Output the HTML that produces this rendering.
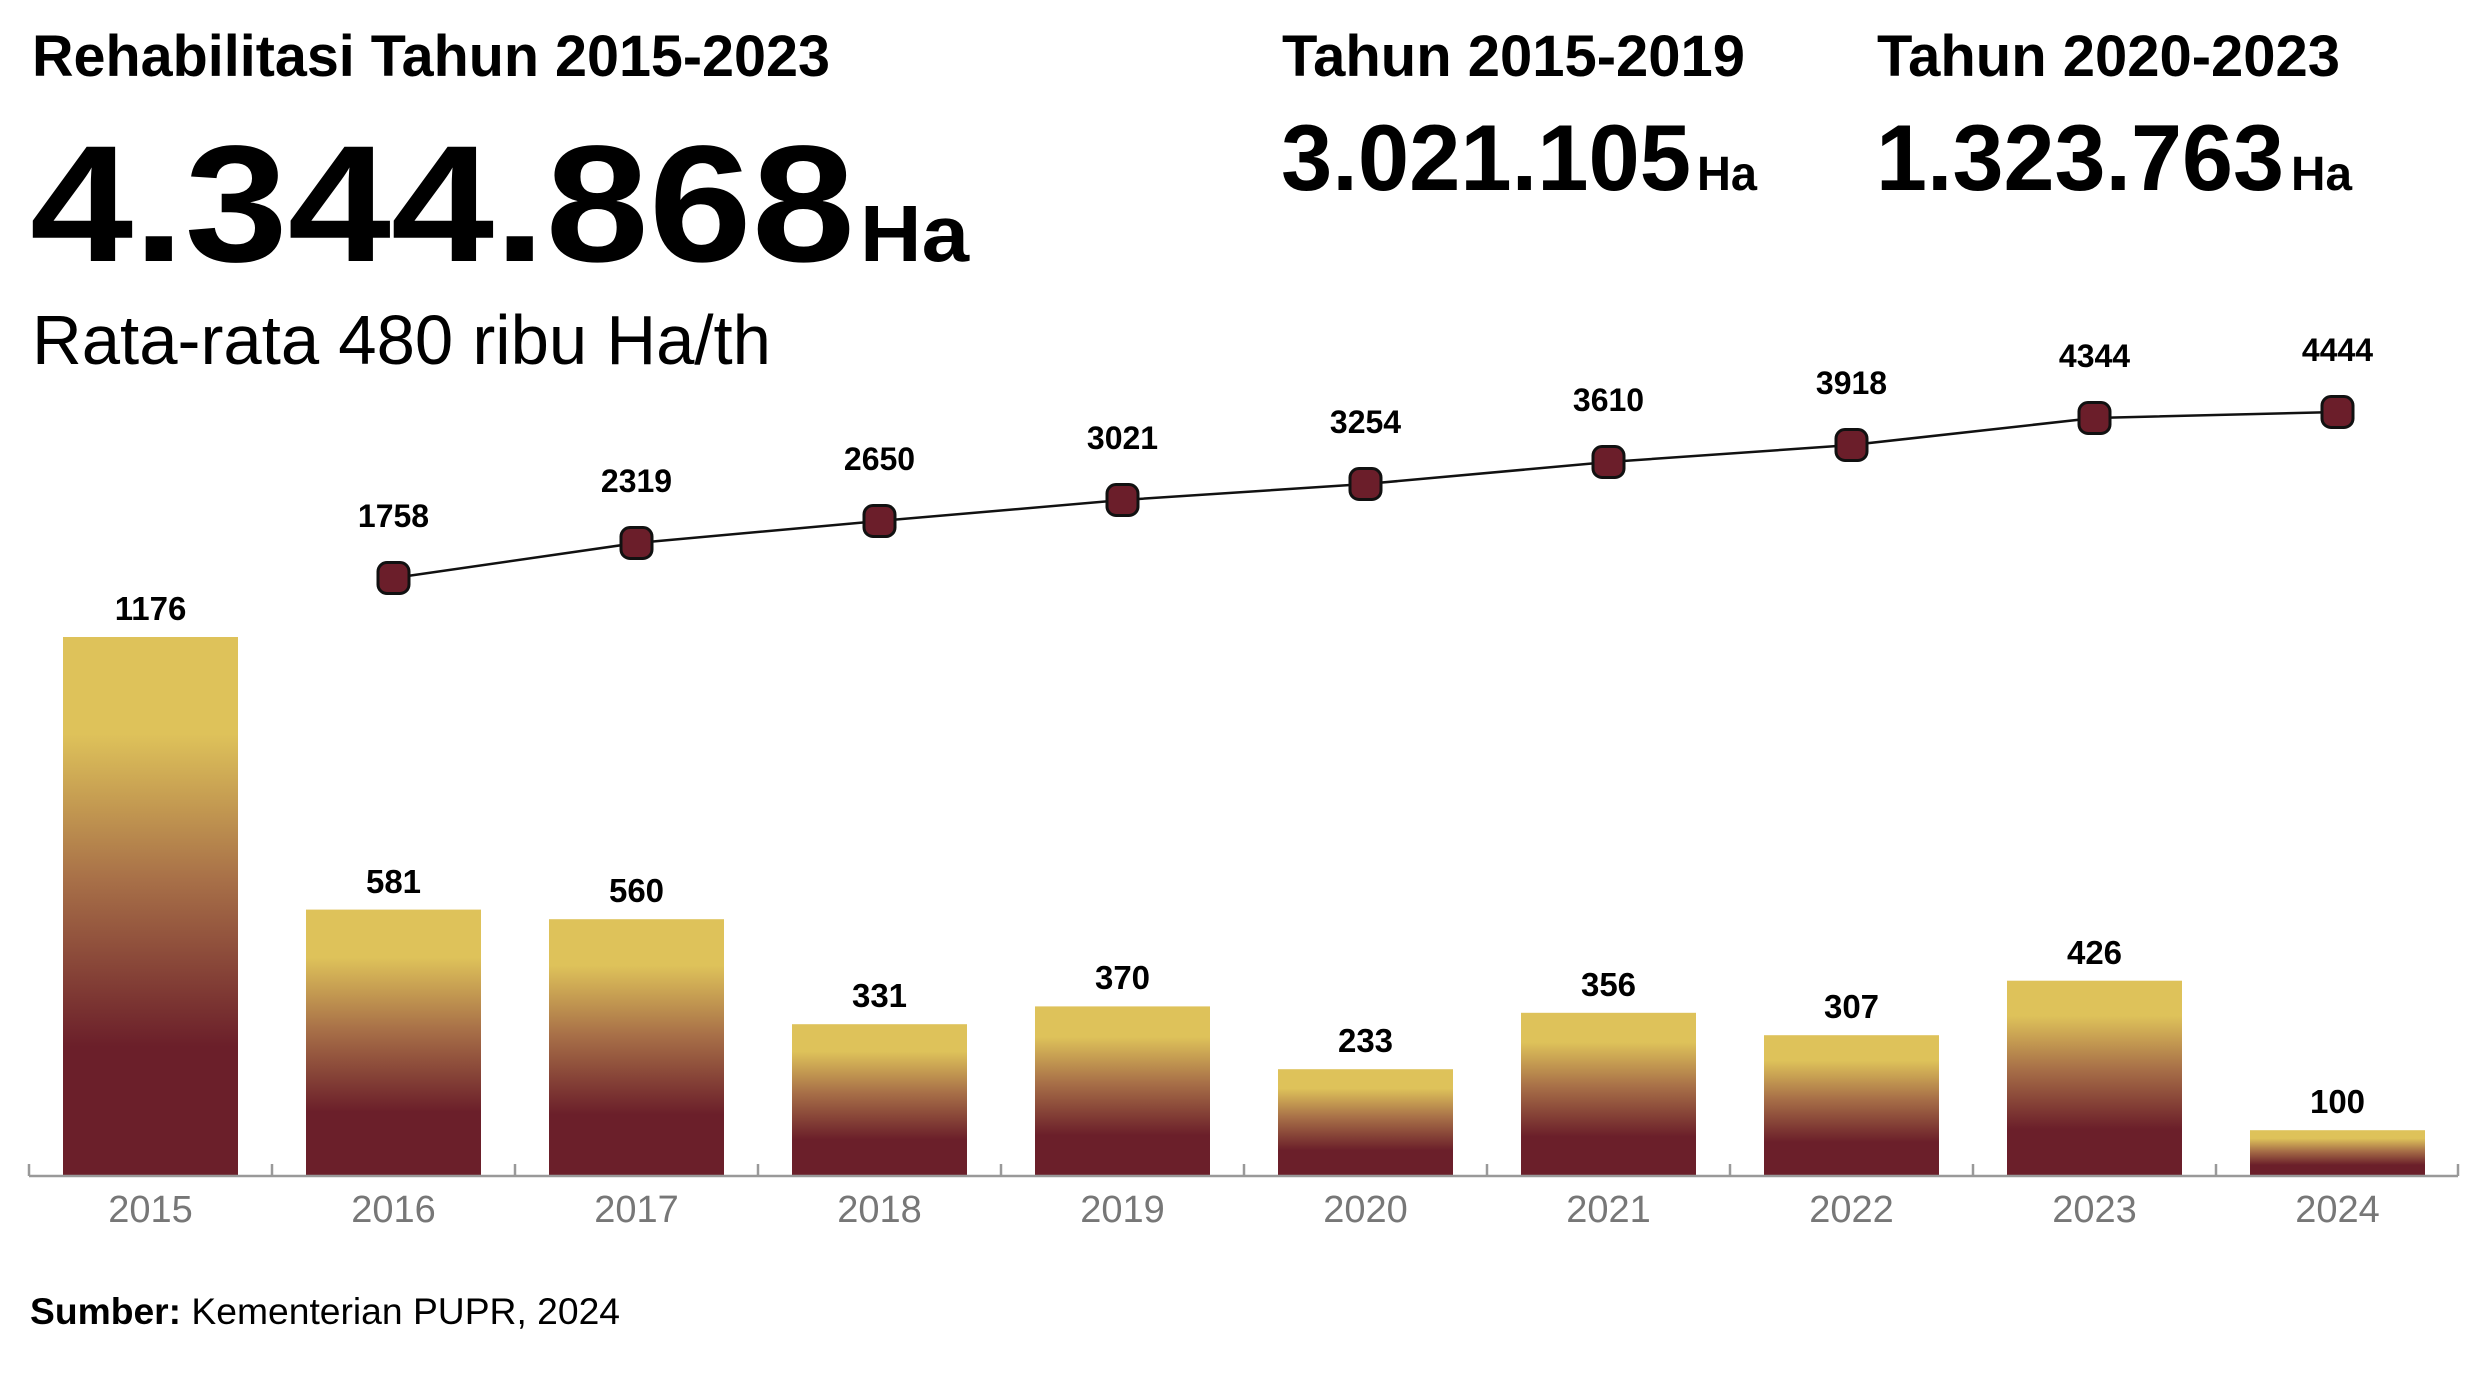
<!DOCTYPE html>
<html><head><meta charset="utf-8"><style>
html,body{margin:0;padding:0;background:#fff}
svg{display:block}
text{font-family:"Liberation Sans",sans-serif}
</style></head><body>
<svg width="2482" height="1376" viewBox="0 0 2482 1376" xmlns="http://www.w3.org/2000/svg">
<defs>
<linearGradient id="g" x1="0" y1="0" x2="0" y2="1">
<stop offset="0" stop-color="#DEC25A"/>
<stop offset="0.18" stop-color="#DEC25A"/>
<stop offset="0.45" stop-color="#A87048"/>
<stop offset="0.76" stop-color="#6B1F2A"/>
<stop offset="1" stop-color="#6B1F2A"/>
</linearGradient>
</defs>
<text x="32" y="76" font-size="58" font-weight="bold" textLength="798" lengthAdjust="spacingAndGlyphs">Rehabilitasi Tahun 2015-2023</text>
<text x="30" y="261" font-size="166" font-weight="bold" textLength="825" lengthAdjust="spacingAndGlyphs">4.344.868</text>
<text x="860" y="261" font-size="80" font-weight="bold" textLength="109" lengthAdjust="spacingAndGlyphs">Ha</text>
<text x="32" y="364" font-size="70" textLength="739" lengthAdjust="spacingAndGlyphs">Rata-rata 480 ribu Ha/th</text>
<text x="1282" y="76" font-size="58" font-weight="bold" textLength="463" lengthAdjust="spacingAndGlyphs">Tahun 2015-2019</text>
<text x="1877" y="76" font-size="58" font-weight="bold" textLength="463" lengthAdjust="spacingAndGlyphs">Tahun 2020-2023</text>
<text x="1281" y="190" font-size="94" font-weight="bold" textLength="410" lengthAdjust="spacingAndGlyphs">3.021.105</text>
<text x="1697" y="190" font-size="48" font-weight="bold" textLength="60" lengthAdjust="spacingAndGlyphs">Ha</text>
<text x="1876" y="190" font-size="94" font-weight="bold" textLength="408" lengthAdjust="spacingAndGlyphs">1.323.763</text>
<text x="2291" y="190" font-size="48" font-weight="bold" textLength="61" lengthAdjust="spacingAndGlyphs">Ha</text>
<g id="bars" font-size="33" font-weight="bold" text-anchor="middle">
<rect x="63" y="637" width="175" height="539" fill="url(#g)"/><text x="150.5" y="620">1176</text>
<rect x="306" y="909.6" width="175" height="266.4" fill="url(#g)"/><text x="393.5" y="893">581</text>
<rect x="549" y="919.2" width="175" height="256.8" fill="url(#g)"/><text x="636.5" y="902">560</text>
<rect x="792" y="1024.2" width="175" height="151.8" fill="url(#g)"/><text x="879.5" y="1007">331</text>
<rect x="1035" y="1006.4" width="175" height="169.6" fill="url(#g)"/><text x="1122.5" y="989">370</text>
<rect x="1278" y="1069.2" width="175" height="106.8" fill="url(#g)"/><text x="1365.5" y="1052">233</text>
<rect x="1521" y="1012.8" width="175" height="163.2" fill="url(#g)"/><text x="1608.5" y="996">356</text>
<rect x="1764" y="1035.2" width="175" height="140.8" fill="url(#g)"/><text x="1851.5" y="1018">307</text>
<rect x="2007" y="980.7" width="175" height="195.3" fill="url(#g)"/><text x="2094.5" y="964">426</text>
<rect x="2250" y="1130.2" width="175" height="45.8" fill="url(#g)"/><text x="2337.5" y="1113">100</text>
</g>
<g stroke="#999" stroke-width="2.5" fill="none">
<line x1="29" y1="1176" x2="2458" y2="1176"/>
<path d="M29 1164V1176M272 1164V1176M515 1164V1176M758 1164V1176M1001 1164V1176M1244 1164V1176M1487 1164V1176M1730 1164V1176M1973 1164V1176M2216 1164V1176M2458 1164V1176"/>
</g>
<g font-size="38" fill="#777" text-anchor="middle">
<text x="150.5" y="1222">2015</text><text x="393.5" y="1222">2016</text><text x="636.5" y="1222">2017</text><text x="879.5" y="1222">2018</text><text x="1122.5" y="1222">2019</text><text x="1365.5" y="1222">2020</text><text x="1608.5" y="1222">2021</text><text x="1851.5" y="1222">2022</text><text x="2094.5" y="1222">2023</text><text x="2337.5" y="1222">2024</text>
</g>
<polyline points="393.5,578 636.5,543 879.5,521 1122.5,500 1365.5,484 1608.5,462 1851.5,445 2094.5,418 2337.5,412" fill="none" stroke="#111" stroke-width="2.5"/>
<g fill="#6B1E2A" stroke="#111" stroke-width="3">
<rect x="378" y="562.5" width="31" height="31" rx="9"/>
<rect x="621" y="527.5" width="31" height="31" rx="9"/>
<rect x="864" y="505.5" width="31" height="31" rx="9"/>
<rect x="1107" y="484.5" width="31" height="31" rx="9"/>
<rect x="1350" y="468.5" width="31" height="31" rx="9"/>
<rect x="1593" y="446.5" width="31" height="31" rx="9"/>
<rect x="1836" y="429.5" width="31" height="31" rx="9"/>
<rect x="2079" y="402.5" width="31" height="31" rx="9"/>
<rect x="2322" y="396.5" width="31" height="31" rx="9"/>
</g>
<g font-size="32" font-weight="bold" text-anchor="middle">
<text x="393.5" y="527">1758</text><text x="636.5" y="492">2319</text><text x="879.5" y="470">2650</text><text x="1122.5" y="449">3021</text><text x="1365.5" y="433">3254</text><text x="1608.5" y="411">3610</text><text x="1851.5" y="394">3918</text><text x="2094.5" y="367">4344</text><text x="2337.5" y="361">4444</text>
</g>
<text x="30" y="1324" font-size="37" textLength="590" lengthAdjust="spacingAndGlyphs"><tspan font-weight="bold">Sumber:</tspan> Kementerian PUPR, 2024</text>
</svg>
</body></html>
